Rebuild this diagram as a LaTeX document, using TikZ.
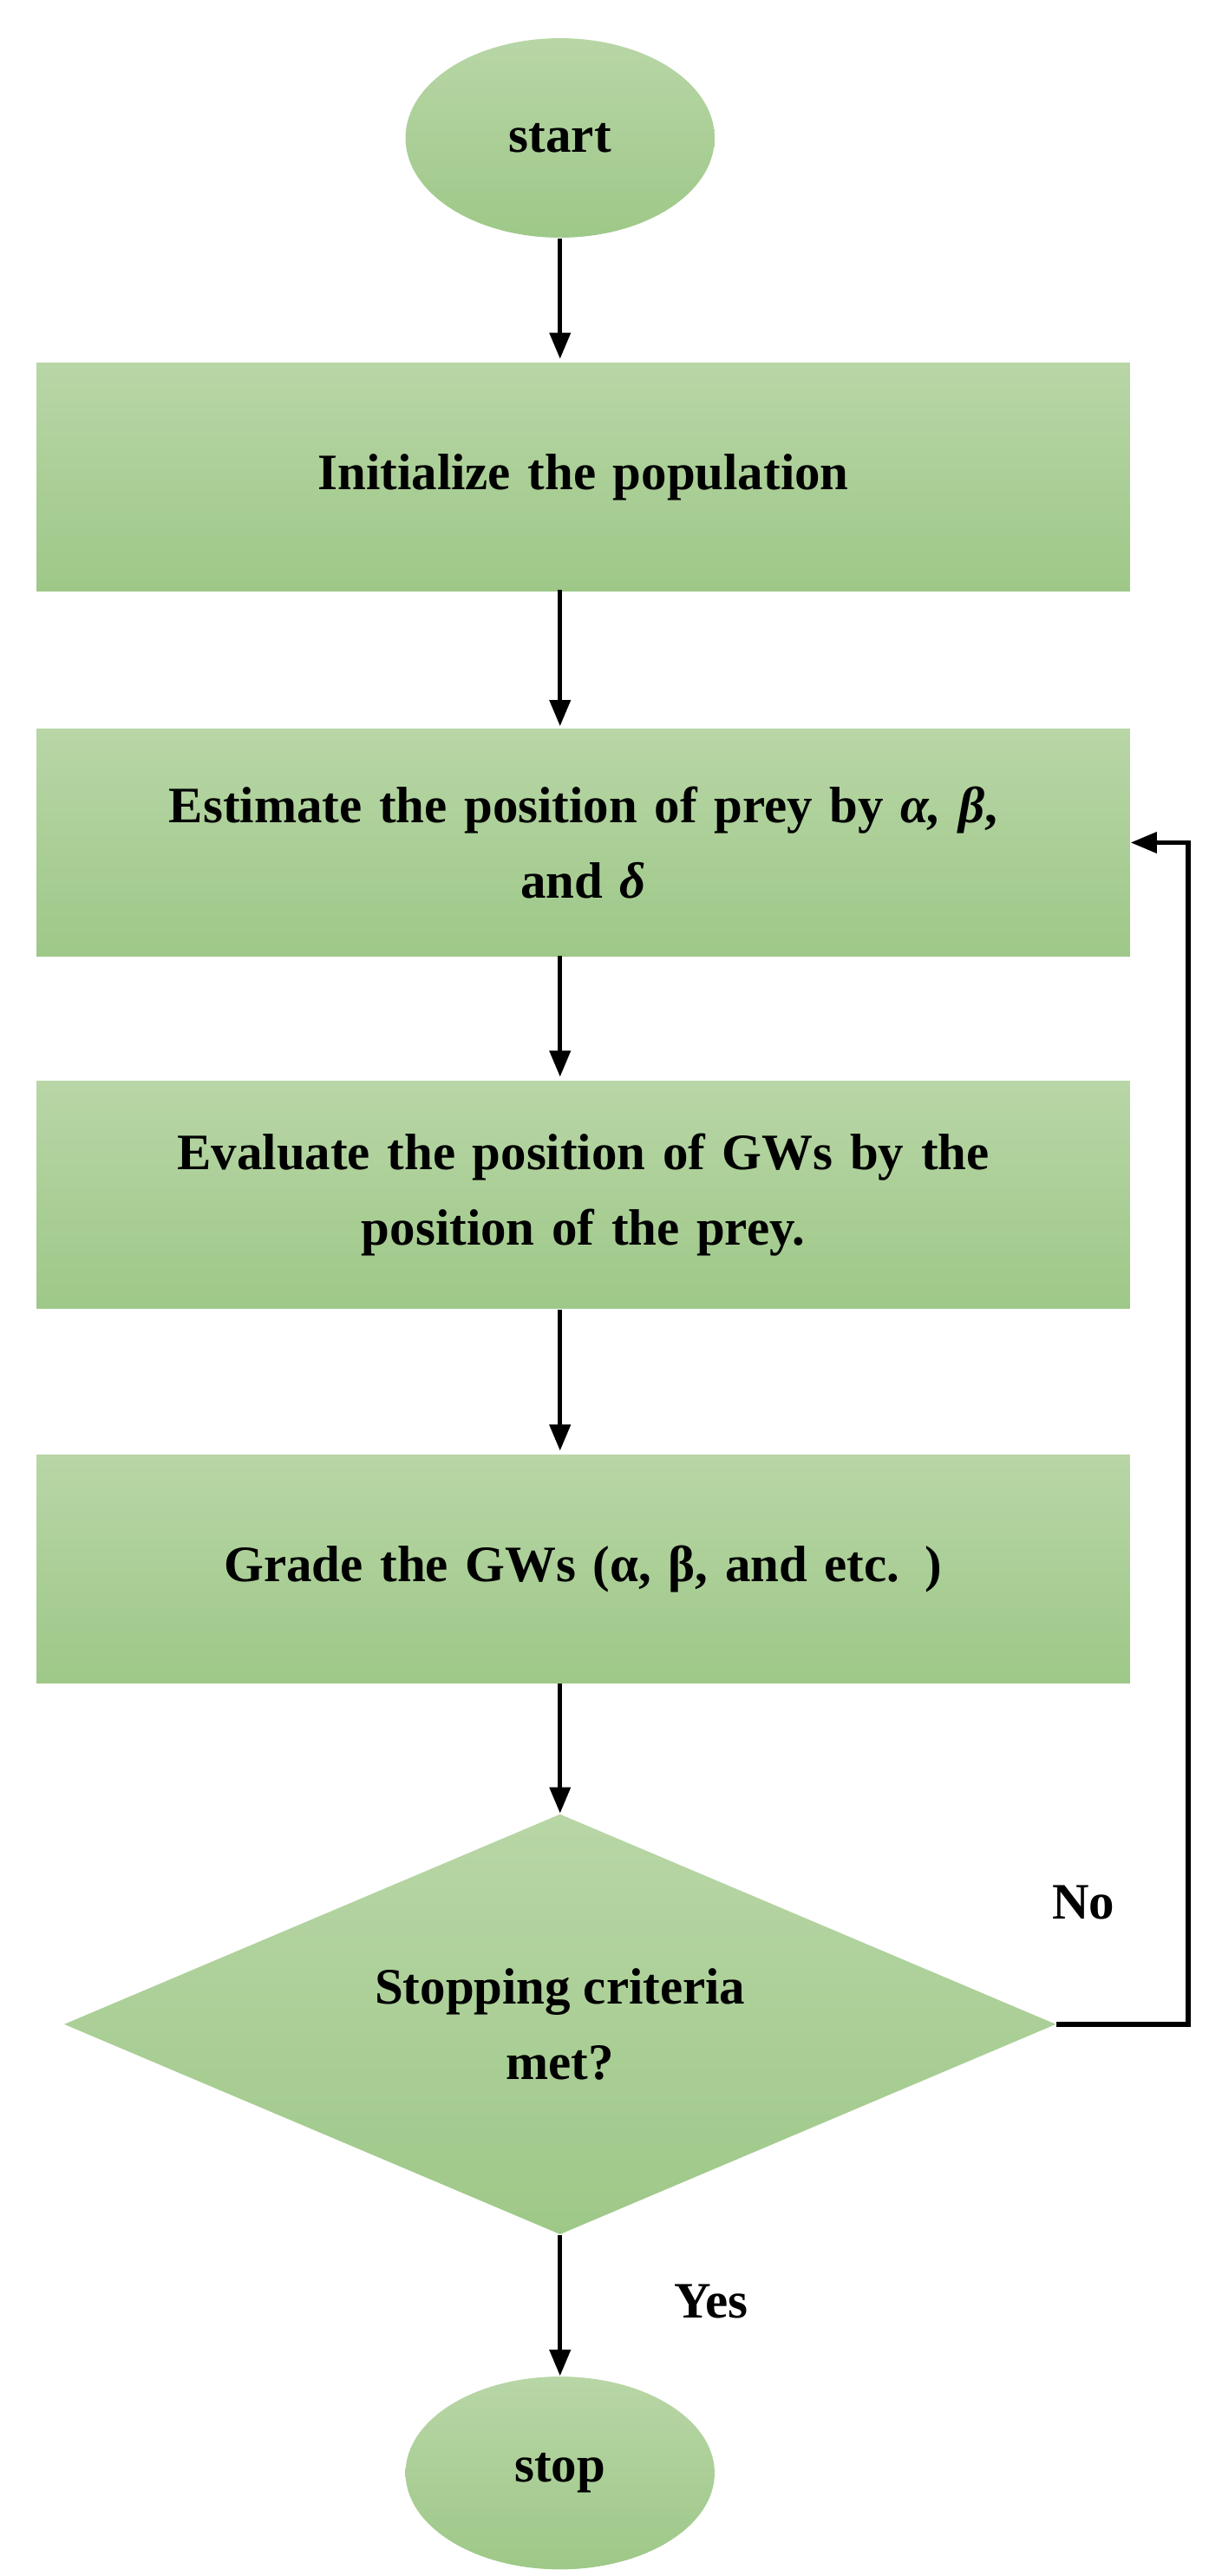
\documentclass[tikz,border=0pt]{standalone}
\usepackage{fontspec}
\setmainfont{Liberation Serif}
\usetikzlibrary{shapes.geometric,arrows.meta}
\begin{document}
\begin{tikzpicture}[x=0.02cm,y=-0.02cm,
  gf/.style={top color={rgb,255:red,184;green,214;blue,166}, bottom color={rgb,255:red,158;green,200;blue,136}, draw=none},
  box/.style={gf, rectangle, minimum width=658*0.02cm, minimum height=137*0.02cm, align=center, text width=560*0.02cm, font=\fontsize{17.5}{26}\selectfont\bfseries},
  ell/.style={gf, ellipse, minimum width=186*0.02cm, minimum height=120*0.02cm, font=\fontsize{17.5}{20}\selectfont\bfseries},
  arr/.style={-{Triangle[length=9pt,width=7pt]}, line width=1.6pt, black},
  lab/.style={font=\fontsize{17.5}{20}\selectfont\bfseries}]
\useasboundingbox (0,0) rectangle (727,1550);
\node[ell] (start) at (337,83) {start};
\node[box] (b1) at (351,287) {Initialize the population};
\node[box] (b2) at (351,507) {Estimate the position of prey by \textit{α, β},\\and \textit{δ}};
\node[box] (b3) at (351,719) {Evaluate the position of GWs by the\\position of the prey.};
\node[box] (b4) at (351,944) {Grade the GWs (α, β, and etc. )};
\node[gf, diamond, minimum width=597*0.02cm, minimum height=253*0.02cm, aspect=2.36, inner sep=0pt, align=center, font=\fontsize{17.5}{26}\selectfont\bfseries] (d) at (337,1218) {Stopping criteria\\met?};
\node[ell, minimum height=116*0.02cm] (stop) at (337,1488) {stop};
\coordinate (c1) at (715,1218);
\coordinate (c2) at (715,507);
\draw[arr] (start) -- (337,216);
\draw[arr] (337,355) -- (337,437);
\draw[arr] (337,575) -- (337,648);
\draw[arr] (337,788) -- (337,873);
\draw[arr] (337,1013) -- (d.north);
\draw[arr] (d.south) -- (stop);
\draw[arr] (d.east) -- (c1) -- (c2) -- (b2.east);
\node[lab] (yes) at (428,1385) {Yes};
\node[lab] (no) at (652,1145) {No};
\end{tikzpicture}
\end{document}
